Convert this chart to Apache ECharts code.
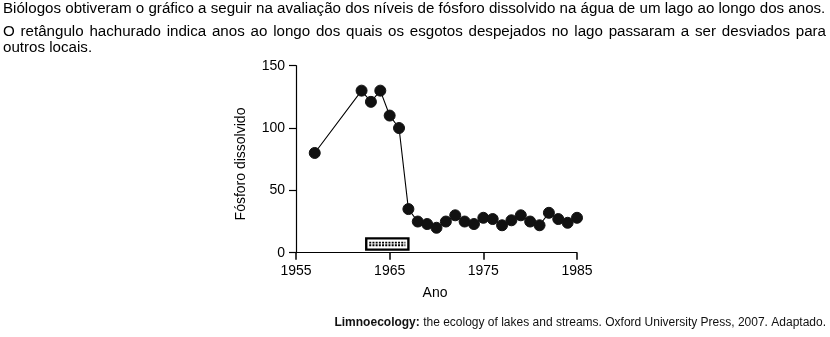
<!DOCTYPE html>
<html>
<head>
<meta charset="utf-8">
<script src="https://cdn.jsdelivr.net/npm/echarts@6/dist/echarts.min.js"></script>
<style>
html,body{margin:0;padding:0;background:#fff;}
#chart{width:830px;height:337px;}
</style>
</head>
<body>
<div id="chart"></div>
<script>
// ---- data ----
const years = [1957, 1962, 1963, 1964, 1965, 1966, 1967, 1968, 1969, 1970, 1971, 1972, 1973, 1974, 1975, 1976, 1977, 1978, 1979, 1980, 1981, 1982, 1983, 1984, 1985];
const phosphorus = [80, 130, 121, 130, 110, 100, 35, 25, 23, 20, 25, 30, 25, 23, 28, 27, 22, 26, 30, 25, 22, 32, 27, 24, 28];
const divertYears = [1962.5, 1967];   // hatched rectangle span
const divertLevels = [2.5, 11.5];     // hatched rectangle height in axis units
const xTicks = [1955, 1965, 1975, 1985];
const yTicks = [0, 50, 100, 150];
const introLine1 = 'Biólogos obtiveram o gráfico a seguir na avaliação dos níveis de fósforo dissolvido na água de um lago ao longo dos anos.';
const introLine2 = 'O retângulo hachurado indica anos ao longo dos quais os esgotos despejados no lago passaram a ser desviados para';
const introLine3 = 'outros locais.';
const yName = 'Fósforo dissolvido';
const xName = 'Ano';
const sourceBold = 'Limnoecology:';
const sourceRest = ' the ecology of lakes and streams. Oxford University Press, 2007. Adaptado.';

const FONT = '"Liberation Sans", Arial, sans-serif';
const chart = echarts.init(document.getElementById('chart'));

// size intro text so the first line spans the text block, justify line 2
const leftX = 3, rightX = 826;
const ctx = document.createElement('canvas').getContext('2d');
ctx.font = '15px ' + FONT;
const fs = Math.min(15.6, 15 * (rightX - leftX) / ctx.measureText(introLine1).width);
const tfont = fs.toFixed(2) + 'px ' + FONT;
ctx.font = tfont;
const words2 = introLine2.split(' ');
const totalW = words2.reduce((s, w) => s + ctx.measureText(w).width, 0);
const gap = (rightX - leftX - totalW) / (words2.length - 1);
const justified = [];
let cx = leftX;
words2.forEach(w => {
  justified.push({type:'text', x: cx, y: 39, style:{text: w, font: tfont, fill:'#000', textVerticalAlign:'bottom'}});
  cx += ctx.measureText(w).width + gap;
});

const pts = years.map((y, i) => [y, phosphorus[i]]);

chart.setOption({
  animation: false,
  grid: {left: 296, top: 65.7, right: 253, bottom: 84.3, containLabel: false},
  xAxis: {
    type: 'value', min: 1955, max: 1985, interval: 10,
    axisLine: {show: true, onZero: false, lineStyle: {color: '#000', width: 1.2}},
    axisTick: {show: true, length: 7, lineStyle: {color: '#000', width: 1.5}},
    axisLabel: {margin: 11, fontSize: 14, color: '#000', fontFamily: FONT,
      formatter: v => xTicks.includes(v) ? String(v) : ''},
    splitLine: {show: false}
  },
  yAxis: {
    type: 'value', min: 0, max: 150, interval: 50,
    axisLine: {show: true, lineStyle: {color: '#000', width: 1.2}},
    axisTick: {show: true, length: 7, lineStyle: {color: '#000', width: 1.2}},
    axisLabel: {margin: 11, fontSize: 14, color: '#000', fontFamily: FONT,
      formatter: v => yTicks.includes(v) ? String(v) : ''},
    splitLine: {show: false}
  },
  series: [
    {
      type: 'custom',
      data: [[divertYears[0], divertYears[1], divertLevels[0], divertLevels[1]]],
      encode: {x: [0, 1], y: [2, 3]},
      z: 1,
      renderItem: function (params, api) {
        const p0 = api.coord([api.value(0), api.value(3)]);
        const p1 = api.coord([api.value(1), api.value(2)]);
        const w = p1[0] - p0[0], h = p1[1] - p0[1];
        const midY = p0[1] + h / 2;
        return {
          type: 'group',
          children: [
            {type: 'rect', shape: {x: p0[0], y: p0[1], width: w, height: h},
             style: {fill: '#fff', stroke: '#000', lineWidth: 2.4}},
            {type: 'line', shape: {x1: p0[0] + 3, y1: midY - 1.3, x2: p1[0] - 3, y2: midY - 1.3},
             style: {stroke: '#000', lineWidth: 1.8, lineDash: [2, 1.2]}},
            {type: 'line', shape: {x1: p0[0] + 3, y1: midY + 1.3, x2: p1[0] - 3, y2: midY + 1.3},
             style: {stroke: '#000', lineWidth: 1.8, lineDash: [2, 1.2]}}
          ]
        };
      }
    },
    {
      type: 'line',
      data: pts,
      symbol: 'circle',
      symbolSize: 11,
      z: 3,
      lineStyle: {color: '#000', width: 1.1},
      itemStyle: {color: '#111', borderColor: '#111'}
    }
  ],
  graphic: [
    {type:'text', x: leftX, y: 16, style:{text: introLine1, font: tfont, fill:'#000', textVerticalAlign:'bottom'}},
    ...justified,
    {type:'text', x: leftX, y: 55, style:{text: introLine3, font: tfont, fill:'#000', textVerticalAlign:'bottom'}},
    {type:'text', x: 241, y: 164, rotation: Math.PI / 2,
     style:{text: yName, font: '14px ' + FONT, fill:'#000', textAlign:'center', textVerticalAlign:'middle'}},
    {type:'text', x: 435, y: 293,
     style:{text: xName, font: '14px ' + FONT, fill:'#000', textAlign:'center', textVerticalAlign:'middle'}},
    {type:'text', x: 826, y: 323,
     style:{rich: {b: {fontWeight: 'bold', fontSize: 12, fontFamily: FONT, fill:'#111'}, n: {fontSize: 12, fontFamily: FONT, fill:'#111'}},
       text: '{b|' + sourceBold + '}{n|' + sourceRest + '}', textAlign:'right', textVerticalAlign:'middle'}}
  ]
});
</script>
</body>
</html>
